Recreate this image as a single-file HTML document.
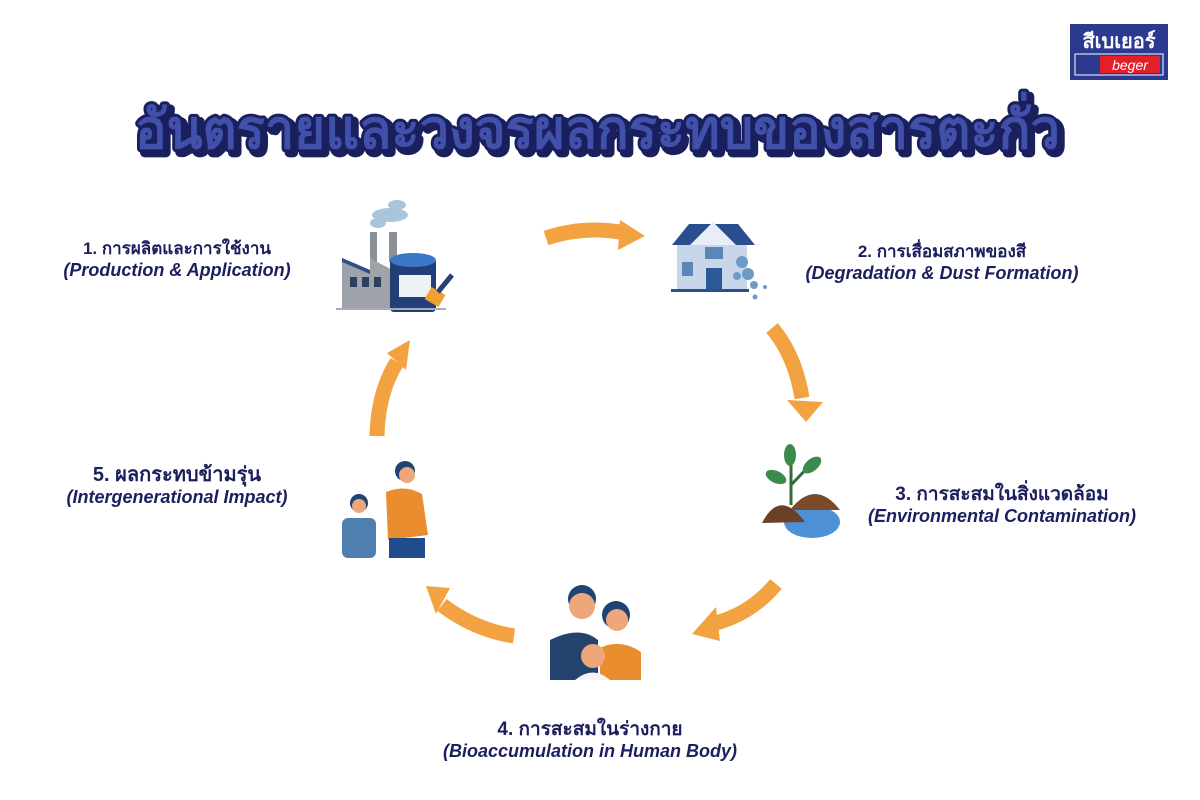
<!DOCTYPE html>
<html><head><meta charset="utf-8"><style>
html,body{margin:0;padding:0;background:#fff}
svg{display:block}
.t{font-family:"Liberation Sans","Noto Sans CJK SC",sans-serif;fill:#1c1f5e;text-anchor:middle}
.b{font-weight:bold}
.i{font-style:italic}
</style></head><body>
<svg width="1200" height="800" viewBox="0 0 1200 800" xmlns="http://www.w3.org/2000/svg">
<rect width="1200" height="800" fill="#fff"/>
<!-- logo -->
<rect x="1070" y="24" width="98" height="56" fill="#2b3a8f"/>
<text x="1119" y="48" font-family="Liberation Sans,Noto Sans CJK SC,sans-serif" font-weight="bold" font-size="20" fill="#fff" text-anchor="middle">สีเบเยอร์</text>
<rect x="1075" y="54" width="88" height="21" fill="#2b3a8f" stroke="#fff" stroke-width="1"/>
<rect x="1100" y="56" width="60" height="17" fill="#e3202a"/>
<text x="1130" y="70" font-family="Liberation Sans,sans-serif" font-style="italic" font-size="14" fill="#fff" text-anchor="middle">beger</text>
<!-- title -->
<g font-family="Liberation Sans,Noto Sans CJK SC,sans-serif" font-weight="bold" font-size="54">
<text x="139" y="152" textLength="925" lengthAdjust="spacingAndGlyphs" fill="#1a1f5e" stroke="#1a1f5e" stroke-width="8" stroke-linejoin="round">อันตรายและวงจรผลกระทบของสารตะกั่ว</text>
<text x="135" y="148" textLength="925" lengthAdjust="spacingAndGlyphs" fill="#4150a8" stroke="#1a1f5e" stroke-width="6" stroke-linejoin="round" paint-order="stroke">อันตรายและวงจรผลกระทบของสารตะกั่ว</text>
</g>
<!-- labels -->
<text class="t b" x="177" y="254" font-size="17">1. การผลิตและการใช้งาน</text>
<text class="t i b" x="177" y="276" font-size="18">(Production &amp; Application)</text>
<text class="t b" x="942" y="257" font-size="17">2. การเสื่อมสภาพของสี</text>
<text class="t i b" x="942" y="279" font-size="18">(Degradation &amp; Dust Formation)</text>
<text class="t b" x="1002" y="500" font-size="19">3. การสะสมในสิ่งแวดล้อม</text>
<text class="t i b" x="1002" y="522" font-size="18">(Environmental Contamination)</text>
<text class="t b" x="590" y="735" font-size="19">4. การสะสมในร่างกาย</text>
<text class="t i b" x="590" y="757" font-size="18">(Bioaccumulation in Human Body)</text>
<text class="t b" x="177" y="481" font-size="20">5. ผลกระทบข้ามรุ่น</text>
<text class="t i b" x="177" y="503" font-size="18">(Intergenerational Impact)</text>
<!-- arrows -->
<g fill="none" stroke="#f2a240" stroke-width="15">
<path d="M546 238 Q585 225 625 233"/>
<path d="M772 328 Q795 355 802 398"/>
<path d="M776 584 Q750 615 712 624"/>
<path d="M514 636 Q475 630 442 605"/>
<path d="M377 436 Q378 392 397 362"/>
</g>
<g fill="#f2a240">
<polygon points="620,220 645,236 618,250"/>
<polygon points="787,400 823,402 806,422"/>
<polygon points="716,607 692,634 720,641"/>
<polygon points="426,586 450,588 436,614"/>
<polygon points="387,353 410,340 406,370"/>
</g>
<!-- factory icon -->
<g>
<ellipse cx="390" cy="215" rx="18" ry="7" fill="#a9c4dc"/><ellipse cx="397" cy="205" rx="9" ry="5" fill="#a9c4dc"/><ellipse cx="378" cy="223" rx="8" ry="5" fill="#a9c4dc"/>
<rect x="370" y="232" width="7" height="30" fill="#8a8f98"/><rect x="389" y="232" width="8" height="30" fill="#8a8f98"/>
<polygon points="342,258 370,270 370,258 396,272 396,308 342,308" fill="#9ea3aa"/>
<polygon points="342,258 370,270 370,274 342,262" fill="#2b4f86"/>
<rect x="350" y="277" width="7" height="10" fill="#2b3f5e"/><rect x="362" y="277" width="7" height="10" fill="#2b3f5e"/><rect x="374" y="277" width="7" height="10" fill="#2b3f5e"/>
<rect x="390" y="258" width="46" height="54" rx="4" fill="#233f78"/>
<ellipse cx="413" cy="260" rx="23" ry="7" fill="#3b78c8"/>
<rect x="399" y="275" width="32" height="22" fill="#eef1f5"/>
<rect x="427" y="290" width="16" height="14" fill="#f0a030" transform="rotate(30 435 297)"/>
<line x1="438" y1="292" x2="452" y2="275" stroke="#2b3f78" stroke-width="5"/>
<line x1="336" y1="309" x2="446" y2="309" stroke="#aab" stroke-width="2"/>
</g>
<!-- house icon -->
<g>
<rect x="677" y="242" width="70" height="48" fill="#c7d6e8"/>
<polygon points="672,245 689,224 738,224 755,245" fill="#2b4f8e"/>
<polygon points="690,245 713,222 736,245" fill="#e8eef5"/>
<rect x="705" y="247" width="18" height="12" fill="#5b86b8"/>
<rect x="682" y="262" width="11" height="14" fill="#5b86b8"/>
<rect x="706" y="268" width="16" height="22" fill="#2b5a96"/>
<rect x="671" y="289" width="78" height="3" fill="#2b4f8e"/>
<circle cx="742" cy="262" r="6" fill="#6d9bc8"/><circle cx="748" cy="274" r="6" fill="#6d9bc8"/><circle cx="737" cy="276" r="4" fill="#6d9bc8"/><circle cx="754" cy="285" r="4" fill="#6d9bc8"/><circle cx="765" cy="287" r="2" fill="#6d9bc8"/><circle cx="755" cy="297" r="2.5" fill="#6d9bc8"/>
</g>
<!-- plant icon -->
<g>
<ellipse cx="812" cy="522" rx="28" ry="16" fill="#4e90d6"/>
<path d="M762 523 Q780 488 805 522 Z" fill="#6b4126"/>
<path d="M790 510 Q815 478 840 510 Z" fill="#7a4a2a"/>
<path d="M791 505 L791 460 M791 485 L812 463" stroke="#2f6e3a" stroke-width="3" fill="none"/>
<ellipse cx="790" cy="455" rx="6" ry="11" fill="#3d8a4e"/>
<ellipse cx="776" cy="477" rx="11" ry="6" fill="#3d8a4e" transform="rotate(25 776 477)"/>
<ellipse cx="812" cy="465" rx="11" ry="6" fill="#3d8a4e" transform="rotate(-40 812 465)"/>
</g>
<!-- intergenerational -->
<g>
<circle cx="359" cy="503" r="9" fill="#1e4474"/><circle cx="359" cy="506" r="7" fill="#eea77b"/>
<rect x="342" y="518" width="34" height="40" rx="6" fill="#4e7fae"/>
<circle cx="405" cy="471" r="10" fill="#1e4474"/><circle cx="407" cy="475" r="8" fill="#eea77b"/>
<path d="M386 492 Q405 484 422 494 L428 535 L388 540 Z" fill="#ea8d2f"/>
<rect x="389" y="538" width="36" height="20" fill="#1f4d8c"/>
</g>
<!-- family -->
<g>
<circle cx="582" cy="599" r="14" fill="#1e4474"/><circle cx="582" cy="606" r="13" fill="#eea77b"/>
<path d="M550 640 Q580 625 598 640 L598 680 L550 680 Z" fill="#24436e"/>
<circle cx="616" cy="615" r="14" fill="#1e4474"/><circle cx="617" cy="620" r="11" fill="#eea77b"/>
<path d="M600 648 Q620 638 641 652 L641 680 L600 680 Z" fill="#ea8d2f"/>
<circle cx="593" cy="656" r="12" fill="#eea77b"/>
<path d="M575 680 Q593 665 610 680 Z" fill="#f4f4f4"/>
</g>
</svg>
</body></html>
